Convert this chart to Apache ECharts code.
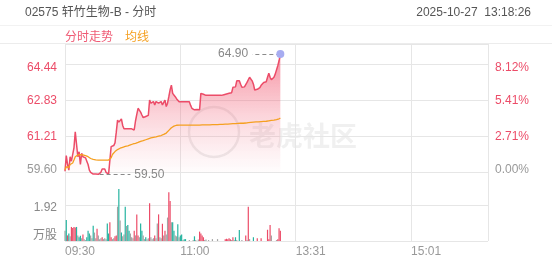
<!DOCTYPE html>
<html>
<head>
<meta charset="utf-8">
<script src="https://cdn.jsdelivr.net/npm/echarts@6.0.0/dist/echarts.min.js"></script>
<style>
html,body{margin:0;padding:0;background:#fff;}
#chart{width:552px;height:265px;}
</style>
</head>
<body>
<div id="chart"></div>
<script>
// ---- data ----
const prevClose = 59.60;
const timeTickLabels = ['09:30', '11:00', '13:31', '15:01'];
const priceTickLabels = ['64.44', '62.83', '61.21', '59.60'];
const pctTickLabels = ['8.12%', '5.41%', '2.71%', '0.00%'];
const volTickLabels = ['1.92', '万股'];
const totalMinutes = 330;

const price = [
59.65, 60.35, 59.95, 59.70, 60.30, 60.10, 60.05, 60.70, 61.42, 61.35,
60.30, 60.52, 59.95, 60.45, 60.30, 60.25, 60.25, 60.10, 59.95, 59.70,
59.60, 59.52, 59.52, 59.51, 59.52, 59.51, 59.51, 59.50, 59.60, 59.75,
59.70, 59.75, 59.60, 59.55, 59.52, 59.51, 60.75, 60.80, 60.80, 60.92,
61.40, 61.94, 61.85, 61.90, 61.99, 61.70, 61.55, 61.60, 61.55, 61.50,
61.55, 61.60, 61.55, 61.55, 61.50, 61.90, 62.20, 62.47, 62.40, 62.30,
62.17, 62.05, 62.10, 62.10, 62.15, 62.15, 62.84, 62.70, 62.65, 62.77,
62.62, 62.77, 62.70, 62.70, 62.70, 62.77, 62.62, 62.70, 62.84, 62.55,
62.70, 62.99, 63.30, 63.51, 63.14, 63.21, 62.99, 62.90, 62.84, 62.76,
62.76, 62.76, 62.76, 62.76, 62.76, 62.76, 62.76, 62.76, 62.60, 62.47,
62.45, 62.40, 62.40, 62.42, 62.40, 62.40, 63.14, 63.10, 63.10, 63.10,
63.05, 63.05, 63.05, 63.05, 63.05, 63.05, 63.05, 63.05, 63.05, 63.05,
63.05, 63.05, 63.05, 63.05, 63.08, 63.11, 63.11, 63.14, 63.14, 63.17,
63.17, 63.41, 63.43, 63.43, 63.70, 63.70, 63.70, 63.55, 63.41, 63.43,
63.43, 63.50, 63.63, 63.75, 63.86, 63.88, 63.70, 63.55, 63.29, 63.30,
63.32, 63.32, 63.40, 63.50, 63.56, 63.63, 63.63, 63.66, 63.86, 64.04,
63.86, 63.75, 63.70, 63.86, 64.00, 64.08, 64.38, 64.60, 64.90
];

const avgPrice = [
59.70, 59.85, 59.85, 59.82, 59.95, 60.00, 60.02, 60.15, 60.30, 60.36,
60.38, 60.40, 60.39, 60.40, 60.38, 60.36, 60.35, 60.33, 60.30, 60.25,
60.22, 60.20, 60.18, 60.17, 60.16, 60.16, 60.15, 60.15, 60.15, 60.15,
60.15, 60.15, 60.15, 60.15, 60.15, 60.16, 60.25, 60.40, 60.48, 60.53,
60.58, 60.62, 60.65, 60.68, 60.70, 60.72, 60.74, 60.76, 60.77, 60.79,
60.81, 60.83, 60.85, 60.87, 60.88, 60.90, 60.92, 60.94, 60.97, 60.99,
61.01, 61.02, 61.04, 61.06, 61.08, 61.10, 61.12, 61.14, 61.15, 61.17,
61.18, 61.19, 61.21, 61.22, 61.24, 61.25, 61.27, 61.30, 61.33, 61.36,
61.42, 61.48, 61.54, 61.60, 61.64, 61.67, 61.70, 61.71, 61.72, 61.72,
61.72, 61.72, 61.72, 61.72, 61.72, 61.72, 61.72, 61.72, 61.72, 61.72,
61.72, 61.72, 61.72, 61.72, 61.72, 61.72, 61.73, 61.73, 61.73, 61.73,
61.73, 61.73, 61.73, 61.73, 61.74, 61.74, 61.74, 61.74, 61.74, 61.74,
61.75, 61.75, 61.75, 61.75, 61.76, 61.76, 61.76, 61.76, 61.77, 61.77,
61.77, 61.78, 61.78, 61.78, 61.79, 61.79, 61.80, 61.80, 61.80, 61.80,
61.81, 61.81, 61.82, 61.83, 61.84, 61.84, 61.85, 61.85, 61.85, 61.86,
61.86, 61.86, 61.87, 61.87, 61.88, 61.88, 61.89, 61.89, 61.90, 61.91,
61.92, 61.93, 61.93, 61.94, 61.95, 61.96, 61.98, 62.00, 62.03
];

// volume in 万股
const volume = [
0.55, 1.12, 0.30, 0.40, 0.25, 0.75, 0.70, 0.75, 0.72, 0.75,
0.30, 0.20, 0.28, 0.15, 0.35, 0.10, 0.05, 0.20, 0.55, 0.40,
0.30, 0.15, 0.82, 0.45, 0.15, 0.65, 0.30, 0.10, 0.15, 0.20,
0.10, 0.15, 0.10, 0.94, 0.40, 1.00, 0.20, 0.10, 0.15, 0.25,
0.30, 1.83, 2.77, 1.10, 0.45, 0.25, 0.35, 1.83, 0.80, 0.85,
0.55, 0.40, 0.20, 0.15, 0.55, 0.30, 1.42, 0.30, 0.20, 0.94,
0.55, 0.30, 0.10, 0.20, 0.10, 0.15, 2.01, 0.20, 0.10, 0.15,
0.30, 0.15, 0.94, 1.42, 0.20, 0.15, 0.92, 0.30, 0.55, 0.35,
1.25, 2.60, 2.13, 1.00, 1.00, 0.55, 0.30, 0.25, 0.90, 0.20,
0.30, 0.35, 0.05, 0.10, 0.10, 0.00, 0.00, 0.05, 0.00, 0.00,
0.05, 0.25, 0.05, 0.00, 0.08, 0.50, 0.40, 0.30, 0.20, 0.05,
0.08, 0.00, 0.05, 0.00, 0.00, 0.10, 0.00, 0.00, 0.00, 0.10,
0.00, 0.00, 0.00, 0.00, 0.00, 0.10, 0.12, 0.10, 0.15, 0.10,
0.05, 0.20, 0.05, 0.20, 0.05, 0.00, 0.59, 0.00, 0.05, 0.00,
0.00, 0.30, 0.05, 1.83, 0.10, 0.00, 0.00, 0.20, 0.00, 0.00,
0.15, 0.00, 0.00, 0.15, 0.00, 0.00, 0.00, 0.00, 0.60, 0.10,
0.85, 0.30, 0.00, 0.00, 0.00, 0.05, 0.10, 0.68, 0.55
];

// 1 = up (red), -1 = down (teal), 0 = flat (grey)
const volumeDir = [
0,-1,1,-1,0,1,1,1,1,-1,
0,-1,-1,0,1,0,0,-1,-1,-1,
0,0,-1,0,0,1,0,0,0,1,
0,0,0,-1,-1,1,1,0,0,1,
1,0,-1,0,-1,0,0,-1,0,-1,
-1,0,0,0,1,0,1,1,0,-1,
-1,0,0,-1,0,0,1,0,0,0,
1,0,0,1,0,0,1,0,1,0,
0,1,1,0,-1,-1,0,0,-1,0,
-1,-1,0,-1,-1,0,0,0,0,0,
0,-1,0,0,0,1,1,1,1,0,
0,0,0,0,0,0,0,0,0,0,
0,0,0,0,0,1,1,1,1,1,
0,1,0,-1,0,0,-1,0,0,0,
0,1,0,1,0,0,0,-1,0,0,
1,0,0,1,0,0,0,0,1,1,
1,0,0,0,0,0,1,1,1
];

// ---- build ----
const FONT = 'Arial, "Liberation Sans", "Noto Sans CJK SC", sans-serif';
const RED = '#ec4c68';
const ORANGE = '#f5a021';
const TEAL = '#25b4a0';
const GREY_BAR = '#a3a3a3';
const GRID = '#e6e6e6';

const pctStep = parseFloat(pctTickLabels[0]) / 3;
const toPct = p => (p / prevClose - 1) * 100;
const pctMax = 9.65;
const pctMin = -pctStep;           // a multiple of the interval, so ticks land on 0, step, 2·step, 3·step
const volStep = parseFloat(volTickLabels[0]);

const priceData = price.map((p, i) => [i, toPct(p)]);
const avgData = avgPrice.map((p, i) => [i, toPct(p)]);
const volData = volume.map((v, i) => ({
  value: [i, v],
  itemStyle: { color: volumeDir[i] > 0 ? RED : (volumeDir[i] < 0 ? TEAL : GREY_BAR) }
}));

const lastIdx = price.length - 1;
const maxVal = Math.max(...price);
const minVal = Math.min(...price);
const minIdx = price.indexOf(minVal);

const tickIndex = v => {
  for (let k = 0; k < 4; k++) if (Math.abs(v - k * pctStep) < 0.01) return k;
  return -1;
};
const makeFmt = labels => v => {
  const k = tickIndex(Number(v));
  if (k < 0) return '';
  const s = labels[3 - k];
  return k === 0 ? '{z|' + s + '}' : (k === 3 ? '{t|' + s + '}' : '{m|' + s + '}');
};
const richLabels = {
  z: { color: '#999', fontSize: 12, padding: [0, 0, 6, 0] },
  t: { color: RED, fontSize: 12, padding: [6, 0, 0, 0] },
  m: { color: RED, fontSize: 12 }
};

const chart = echarts.init(document.getElementById('chart'), null, { renderer: 'canvas' });
chart.setOption({
  animation: false,
  textStyle: { fontFamily: FONT },
  title: [
    { text: '02575 轩竹生物-B - 分时', left: 20, top: 2, textStyle: { fontSize: 12, fontWeight: 'normal', color: '#555', fontFamily: FONT } },
    { text: '2025-10-27  13:18:26', right: 16, top: 2, textStyle: { fontSize: 12, fontWeight: 'normal', color: '#555', fontFamily: FONT } }
  ],
  legend: {
    left: 55, top: 27, itemWidth: 0, itemHeight: 0, itemGap: 7, icon: 'none',
    selectedMode: false,
    textStyle: { fontSize: 12, fontFamily: FONT },
    data: [
      { name: '分时走势', textStyle: { color: '#ef5a74' } },
      { name: '均线', textStyle: { color: ORANGE } }
    ]
  },
  graphic: [
    { type: 'line', silent: true, shape: { x1: 0, y1: 25.5, x2: 552, y2: 25.5 }, style: { stroke: '#f2f2f2', lineWidth: 1 } },
    { type: 'line', silent: true, shape: { x1: 0, y1: 43.5, x2: 552, y2: 43.5 }, style: { stroke: '#ececec', lineWidth: 1 } },
    { type: 'circle', silent: true, z: -1, shape: { cx: 214, cy: 132, r: 25 }, style: { fill: 'none', stroke: 'rgba(150,150,150,0.18)', lineWidth: 2.5 } },
    { type: 'text', silent: true, z: -1, x: 249, y: 122, style: { text: '老虎社区', fontSize: 27, fontWeight: 'bold', fill: 'rgba(150,150,150,0.14)', fontFamily: '"Noto Sans CJK SC", sans-serif' } }
  ],
  grid: [
    { left: 65, right: 64, top: 44, height: 164.33 },
    { left: 65, right: 64, top: 187, height: 54 }
  ],
  xAxis: [
    {
      type: 'value', gridIndex: 0, min: 0, max: totalMinutes, interval: 90,
      axisLine: { show: false }, axisTick: { show: false }, axisLabel: { show: false },
      splitLine: { show: true, lineStyle: { color: GRID } }
    },
    {
      type: 'value', gridIndex: 1, min: 0, max: totalMinutes, interval: 90,
      axisLine: { show: false }, axisTick: { show: false },
      axisLabel: {
        show: true, color: '#999', fontSize: 12, align: 'left', margin: 5, showMaxLabel: false,
        formatter: v => timeTickLabels[Math.round(v / 90)] || ''
      },
      splitLine: { show: true, lineStyle: { color: GRID } }
    }
  ],
  yAxis: [
    {
      type: 'value', gridIndex: 0, position: 'left', min: pctMin, max: pctMax, interval: pctStep,
      axisLine: { show: false }, axisTick: { show: false },
      axisLabel: {
        show: true, margin: 8, fontSize: 12, showMinLabel: false, showMaxLabel: false,
        formatter: makeFmt(priceTickLabels), rich: richLabels
      },
      splitLine: { show: true, showMinLine: false, lineStyle: { color: GRID } }
    },
    {
      type: 'value', gridIndex: 0, position: 'right', min: pctMin, max: pctMax, interval: pctStep,
      axisLine: { show: false }, axisTick: { show: false },
      axisLabel: {
        show: true, margin: 7, fontSize: 12, showMinLabel: false, showMaxLabel: false,
        formatter: makeFmt(pctTickLabels), rich: richLabels
      },
      splitLine: { show: false }
    },
    {
      type: 'value', gridIndex: 1, position: 'left', min: 0, max: volStep * 1.5, interval: volStep,
      axisLine: { show: false }, axisTick: { show: false },
      axisLabel: {
        margin: 8, fontSize: 12, showMaxLabel: false,
        formatter: v => v === 0 ? '{b|' + volTickLabels[1] + '}' : (Math.abs(v - volStep) < 1e-6 ? '{a|' + volTickLabels[0] + '}' : ''),
        rich: {
          a: { color: '#888', fontSize: 12, padding: [5, 0, 0, 0] },
          b: { color: '#888', fontSize: 12, padding: [0, 0, 10, 0] }
        }
      },
      splitLine: { show: true, showMaxLine: false, lineStyle: { color: GRID } }
    }
  ],
  series: [
    {
      name: '分时走势', type: 'line', xAxisIndex: 0, yAxisIndex: 0,
      data: priceData, showSymbol: false, symbol: 'none', z: 3,
      lineStyle: { color: RED, width: 1.5 },
      itemStyle: { color: RED },
      areaStyle: {
        origin: 'auto',
        color: { type: 'linear', x: 0, y: 0, x2: 0, y2: 1, colorStops: [
          { offset: 0, color: 'rgba(240,70,98,0.85)' },
          { offset: 0.5, color: 'rgba(242,100,122,0.40)' },
          { offset: 1, color: 'rgba(245,140,155,0.02)' }
        ] }
      },
      markLine: {
        silent: true, symbol: ['none', 'none'], animation: false,
        lineStyle: { color: '#8a8a8a', type: [4, 3], width: 1 },
        label: { show: true, position: 'end', distance: 4, color: '#888', fontSize: 12 },
        data: [
          [ { coord: [lastIdx, toPct(maxVal)], label: { formatter: maxVal.toFixed(2) } }, { coord: [lastIdx - 22, toPct(maxVal)] } ],
          [ { coord: [minIdx, toPct(minVal)], label: { formatter: minVal.toFixed(2) } }, { coord: [minIdx + 24, toPct(minVal)] } ]
        ]
      },
      markPoint: {
        silent: true, animation: false, symbol: 'circle', symbolSize: 8,
        itemStyle: { color: '#a7acf1' }, label: { show: false },
        data: [ { coord: [lastIdx, toPct(price[lastIdx])] } ]
      }
    },
    {
      name: '均线', type: 'line', xAxisIndex: 0, yAxisIndex: 0,
      data: avgData, showSymbol: false, symbol: 'none', z: 4,
      lineStyle: { color: ORANGE, width: 1.3 },
      itemStyle: { color: ORANGE }
    },
    {
      name: '成交量', type: 'bar', xAxisIndex: 1, yAxisIndex: 2,
      data: volData, barWidth: 1.2
    }
  ]
});
</script>
</body>
</html>
